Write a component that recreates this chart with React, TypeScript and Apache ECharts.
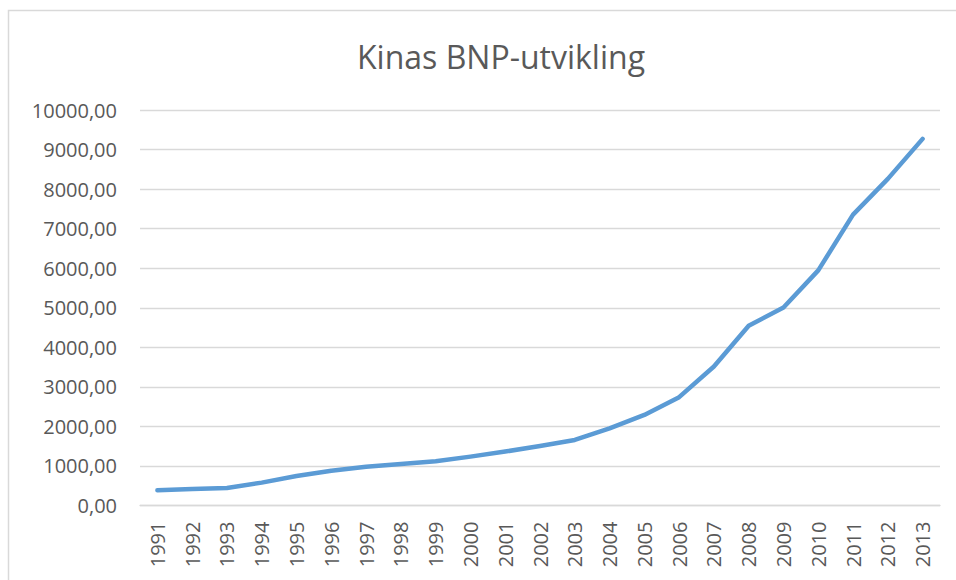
import React, { useEffect, useRef } from "react";
import * as echarts from "echarts";

const years = ["1991","1992","1993","1994","1995","1996","1997","1998","1999","2000","2001","2002","2003","2004","2005","2006","2007","2008","2009","2010","2011","2012","2013"];
const gdp = [385, 418, 443, 578, 747, 881, 982, 1051, 1118, 1236, 1363, 1506, 1658, 1950, 2291, 2739, 3514, 4544, 5008, 5945, 7354, 8258, 9270];
const titleText = "Kinas BNP-utvikling";

export default function App() {
  const ref = useRef<HTMLDivElement>(null);
  useEffect(() => {
    if (!ref.current) return;
    const chart = echarts.init(ref.current, null, { renderer: "svg" });
    const font = "'Open Sans', 'Noto Sans', sans-serif";
    chart.setOption({
      animation: false,
      backgroundColor: "#ffffff",
      title: {
        text: titleText,
        left: 496,
        textAlign: "center",
        top: 35,
        textStyle: { fontFamily: font, fontSize: 32, fontWeight: "normal", color: "#595959" },
      },
      graphic: [
        {
          type: "rect",
          shape: { x: 8.5, y: 10.5, width: 1000, height: 700 },
          style: { fill: "none", stroke: "#d9d9d9", lineWidth: 1.5 },
          silent: true,
        },
      ],
      grid: { left: 140, right: 16, top: 110, bottom: 74.5 },
      xAxis: {
        type: "category",
        data: years,
        boundaryGap: true,
        axisLine: { show: true, lineStyle: { color: "#d9d9d9", width: 1.3 } },
        axisTick: { show: false },
        axisLabel: { rotate: 90, margin: 16, color: "#595959", fontFamily: font, fontSize: 20, interval: 0 },
      },
      yAxis: {
        type: "value",
        min: 0,
        max: 10000,
        interval: 1000,
        axisLine: { show: false },
        axisTick: { show: false },
        axisLabel: {
          margin: 23,
          color: "#595959",
          fontFamily: font,
          fontSize: 20,
          formatter: (v: number) => v.toFixed(2).replace(".", ","),
        },
        splitLine: { lineStyle: { color: "#d9d9d9", width: 1.3 } },
      },
      series: [
        {
          type: "line",
          data: gdp,
          symbol: "none",
          lineStyle: { color: "#5b9bd5", width: 4.5, cap: "round", join: "round" },
        },
      ],
    });
    return () => chart.dispose();
  }, []);
  return <div ref={ref} style={{ position: "fixed", left: 0, top: 0, width: 956, height: 580 }} />;
}
